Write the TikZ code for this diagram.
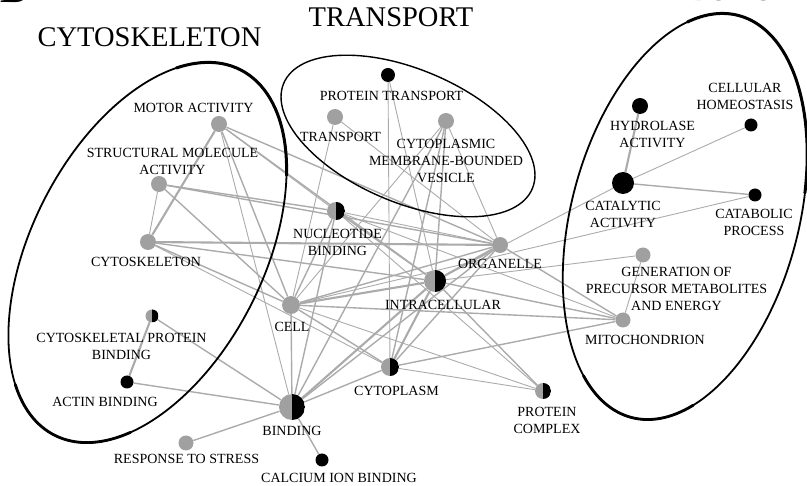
\documentclass[tikz,border=0pt]{standalone}
\usepackage{fontspec}
\setmainfont{Liberation Serif}
\usetikzlibrary{backgrounds}
\definecolor{ndgray}{HTML}{A0A0A0}
\definecolor{edgray}{HTML}{ABABAB}
\tikzset{
  gn/.style={circle, fill=ndgray, inner sep=0pt, minimum size=#1},
  bn/.style={circle, fill=black, inner sep=0pt, minimum size=#1},
  hn/.style={circle, fill=ndgray, inner sep=0pt, minimum size=#1,
    path picture={\fill[black] (path picture bounding box.north) rectangle (path picture bounding box.south east);}},
  lbl/.style={font=\fontsize{14}{17}\selectfont, align=center, inner sep=0pt},
  ttl/.style={font=\fontsize{28.5}{30}\selectfont, inner sep=0pt},
  et/.style={draw=edgray, line width=0.9pt},
  em/.style={draw=edgray, line width=1.4pt},
  ek/.style={draw=edgray, line width=2.1pt},
  grp/.style={draw=black, line width=#1, line cap=round},
}
\begin{document}
\begin{tikzpicture}[x=1pt,y=-1pt]
\useasboundingbox (0,0) rectangle (807,486);
\clip (0,0) rectangle (807,486);

% titles
\node[ttl, anchor=base east, font=\fontsize{40}{40}\selectfont\bfseries] (tB) at (27,3) {B};
\node[ttl, anchor=base] (tcyto) at (149.5,47) {CYTOSKELETON};
\node[ttl, anchor=base] (ttrans) at (391,27) {TRANSPORT};
\node[ttl, anchor=base] (tmeta) at (704,0.8) {METABOLISM};

% group ellipses
\draw[grp=1.8pt, rotate around={63:(147.5,252.5)}] (147.5,252.5) ellipse [x radius=205pt, y radius=116pt];
\draw[grp=3pt, rotate around={63:(147.5,252.5)}] (147.5,252.5) ++(30:205pt and 116pt) arc[start angle=30, end angle=-50, x radius=205pt, y radius=116pt];
\draw[grp=2.8pt, rotate around={63:(147.5,252.5)}] (147.5,252.5) ++(150:205pt and 116pt) arc[start angle=150, end angle=215, x radius=205pt, y radius=116pt];
\draw[grp=1.4pt, rotate around={-23:(408,136)}] (408,136) ellipse [x radius=135pt, y radius=66.5pt];
\draw[grp=1.8pt, rotate around={75:(685,216.5)}] (685,216.5) ellipse [x radius=208pt, y radius=113.6pt];
\draw[grp=3pt, rotate around={75:(685,216.5)}] (685,216.5) ++(25:208pt and 113.6pt) arc[start angle=25, end angle=-75, x radius=208pt, y radius=113.6pt];
\draw[grp=2.8pt, rotate around={75:(685,216.5)}] (685,216.5) ++(150:208pt and 113.6pt) arc[start angle=150, end angle=210, x radius=208pt, y radius=113.6pt];

% nodes
\node[gn=16pt] (motor) at (219,124) {};
\node[gn=16pt] (struct) at (159,184) {};
\node[gn=16pt] (cytosk) at (148,242) {};
\node[hn=13pt] (cpb) at (152,316) {};
\node[bn=13pt] (actin) at (127,382) {};
\node[gn=18pt] (cell) at (291,305) {};
\node[hn=26pt] (binding) at (292,407) {};
\node[gn=15pt] (stress) at (186,443) {};
\node[bn=13pt] (calcium) at (322,460) {};
\node[hn=18pt] (nucl) at (336,211) {};
\node[gn=16pt] (organelle) at (500,245) {};
\node[hn=22pt] (intra) at (435,281) {};
\node[hn=18pt] (cytop) at (390,367) {};
\node[hn=16pt] (pc) at (543,391) {};
\node[gn=15pt] (mito) at (623,320) {};
\node[gn=15pt] (gen) at (643,255) {};
\node[bn=22pt] (catalytic) at (623,183) {};
\node[bn=16pt] (hydrolase) at (640,106) {};
\node[bn=13pt] (homeo) at (751,125) {};
\node[bn=13pt] (catab) at (755,195) {};
\node[bn=14pt] (pt) at (388,75) {};
\node[gn=16pt] (transport) at (335,117) {};
\node[gn=16pt] (vesicle) at (446,121) {};

% edges
\begin{scope}[on background layer]
\draw[ek] (motor) -- (cytosk);
\draw[em] (motor) -- (cell);
\draw[et] (motor) -- (binding);
\draw[em] (motor) -- (organelle);
\draw[em] (motor) -- (intra);
\draw[et] (motor) -- (nucl);
\draw[et] (struct) -- (cytosk);
\draw[em] (struct) -- (cell);
\draw[em] (struct) -- (nucl);
\draw[em] (struct) -- (organelle);
\draw[ek] (cytosk) -- (organelle);
\draw[em] (cytosk) -- (cell);
\draw[em] (cytosk) -- (intra);
\draw[et] (cytosk) -- (cytop);
\draw[ek] (cpb) -- (actin);
\draw[em] (cpb) -- (binding);
\draw[em] (actin) -- (binding);
\draw[em] (stress) -- (binding);
\draw[em] (calcium) -- (binding);
\draw[et] (transport) -- (cell);
\draw[et] (transport) -- (organelle);
\draw[et] (pt) -- (cytop);
\draw[et] (pt) -- (intra);
\draw[et] (vesicle) -- (cell);
\draw[em] (vesicle) -- (intra);
\draw[em] (vesicle) -- (cytop);
\draw[et] (vesicle) -- (organelle);
\draw[em] (vesicle) -- (binding);
\draw[em] (nucl) -- (cell);
\draw[em] (nucl) -- (binding);
\draw[et] (nucl) -- (organelle);
\draw[em] (nucl) -- (intra);
\draw[et] (nucl) -- (mito);
\draw[et] (nucl) -- (pc);
\draw[ek] (cell) -- (intra);
\draw[em] (cell) -- (organelle);
\draw[em] (cell) -- (cytop);
\draw[em] (cell) -- (binding);
\draw[em] (cell) -- (mito);
\draw[et] (cell) -- (pc);
\draw[et] (cell) -- (catab);
\draw[ek] (intra) -- (organelle);
\draw[ek] (intra) -- (cytop);
\draw[ek] (intra) -- (binding);
\draw[em] (intra) -- (mito);
\draw[em] (intra) -- (pc);
\draw[et] (intra) -- (catalytic);
\draw[et] (intra) -- (gen);
\draw[em] (organelle) -- (mito);
\draw[em] (organelle) -- (binding);
\draw[em] (organelle) -- (cytop);
\draw[em] (cytop) -- (binding);
\draw[em] (cytop) -- (mito);
\draw[et] (cytop) -- (pc);
\draw[et] (mito) -- (gen);
\draw[ek] (catalytic) -- (hydrolase);
\draw[et] (catalytic) -- (homeo);
\draw[em] (catalytic) -- (catab);
\end{scope}

% labels
\node[lbl] (lmotor) at (193.5,108) {MOTOR ACTIVITY};
\node[lbl] (lstruct) at (172.5,161.5) {STRUCTURAL MOLECULE\\ACTIVITY};
\node[lbl] (lcytosk) at (146,262) {CYTOSKELETON};
\node[lbl] (lcpb) at (121.5,346.5) {CYTOSKELETAL PROTEIN\\BINDING};
\node[lbl] (lactin) at (105,402) {ACTIN BINDING};
\node[lbl] (lcell) at (292,327) {CELL};
\node[lbl] (lbind) at (292,431) {BINDING};
\node[lbl] (lstress) at (186.5,459) {RESPONSE TO STRESS};
\node[lbl] (lcalc) at (339,478) {CALCIUM ION BINDING};
\node[lbl] (lnucl) at (337.5,242.5) {NUCLEOTIDE\\BINDING};
\node[lbl] (lorg) at (500,263.5) {ORGANELLE};
\node[lbl] (lintra) at (443,304.5) {INTRACELLULAR};
\node[lbl] (lcytop) at (396.5,390.5) {CYTOPLASM};
\node[lbl] (lpc) at (547,420) {PROTEIN\\COMPLEX};
\node[lbl] (lmito) at (645,339.5) {MITOCHONDRION};
\node[lbl] (lgen) at (676.5,288.5) {GENERATION OF\\PRECURSOR METABOLITES\\AND ENERGY};
\node[lbl] (lcat) at (623,214) {CATALYTIC\\ACTIVITY};
\node[lbl] (lhyd) at (652.5,134) {HYDROLASE\\ACTIVITY};
\node[lbl] (lhom) at (745,96) {CELLULAR\\HOMEOSTASIS};
\node[lbl] (lcatab) at (754,222) {CATABOLIC\\PROCESS};
\node[lbl] (lpt) at (391.5,95.5) {PROTEIN TRANSPORT};
\node[lbl] (ltrans) at (340.5,136.5) {TRANSPORT};
\node[lbl] (lves) at (446,161) {CYTOPLASMIC\\MEMBRANE-BOUNDED\\VESICLE};
\end{tikzpicture}
\end{document}
